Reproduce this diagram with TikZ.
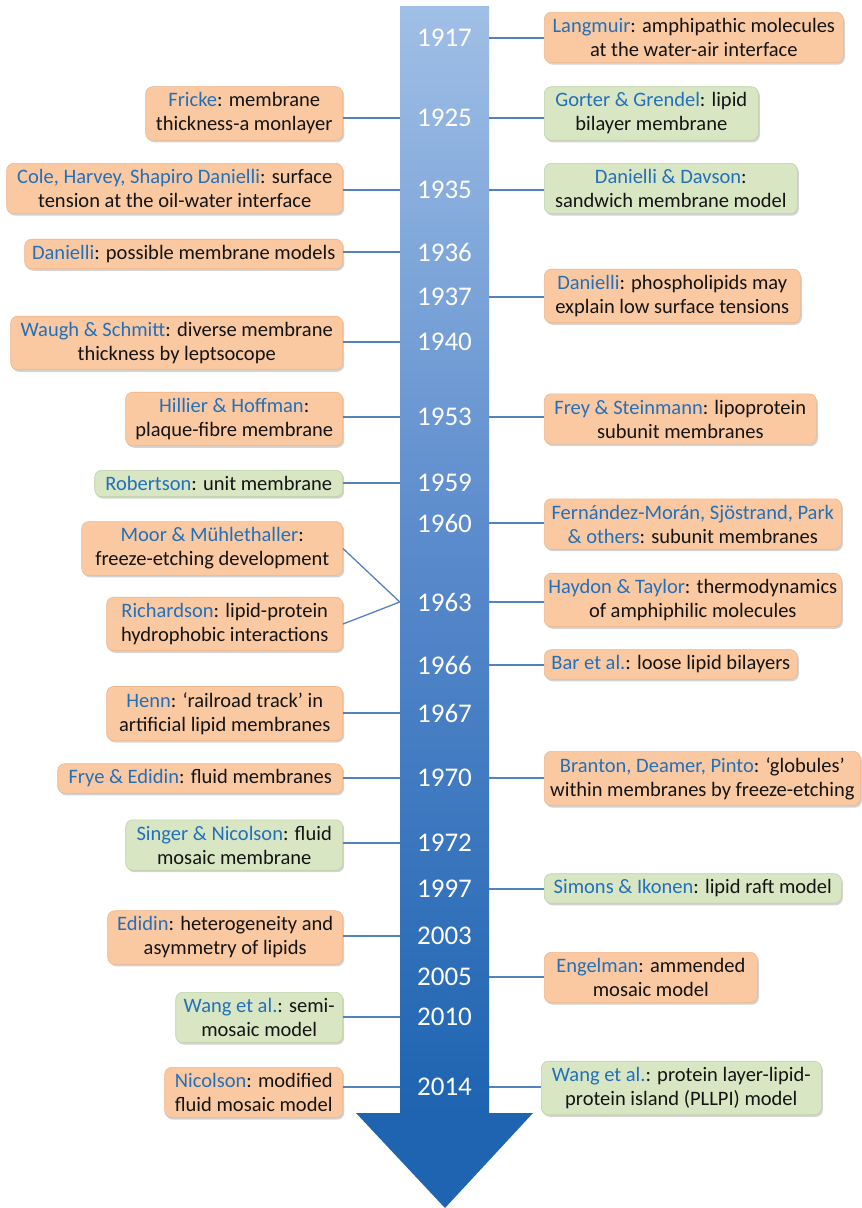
\documentclass[tikz,border=0pt]{standalone}
\usepackage{fontspec}
\setmainfont{Carlito}
\usepackage{tikz}
\usetikzlibrary{calc, shadows}

\definecolor{peach}{RGB}{250,201,162}
\definecolor{peachline}{RGB}{238,182,140}
\definecolor{sage}{RGB}{216,230,195}
\definecolor{sageline}{RGB}{192,211,168}
\definecolor{nameblue}{RGB}{35,112,186}
\definecolor{linkblue}{RGB}{84,130,190}
\definecolor{shafttop}{RGB}{160,191,230}
\definecolor{shaftmid}{RGB}{88,137,203}
\definecolor{shaftbot}{RGB}{30,100,177}

\newcommand{\nm}[1]{\textcolor{nameblue}{#1}}

\begin{document}
\begin{tikzpicture}[x=1pt, y=-1pt,
    box/.style={rectangle, rounded corners=7pt, align=center, inner xsep=3pt, inner ysep=6pt,
        font=\fontsize{20.5}{24}\selectfont, text=black!92, line width=0.6pt,
        drop shadow={shadow xshift=1.5pt, shadow yshift=-2pt, opacity=0.35}},
    obox/.style={box, draw=peachline, fill=peach, minimum width=#1},
    gbox/.style={box, draw=sageline, fill=sage, minimum width=#1},
    yr/.style={text=white, font=\fontsize{27}{29}\selectfont, minimum width=89pt, inner sep=0pt},
    link/.style={draw=linkblue, line width=1.3pt}]

    \useasboundingbox (0,0) rectangle (862,1208);

    % arrow
    \fill[top color=shafttop, bottom color=shaftbot, middle color=shaftmid] (400,6) rectangle (489,1114);
    \fill[shaftbot] (356,1113) -- (533,1113) -- (445,1208) -- cycle;

    % years
    \node[yr] (y1917) at (444.5,38) {1917};
    \node[yr] (y1925) at (444.5,118) {1925};
    \node[yr] (y1935) at (444.5,190) {1935};
    \node[yr] (y1936) at (444.5,252) {1936};
    \node[yr] (y1937) at (444.5,297) {1937};
    \node[yr] (y1940) at (444.5,342) {1940};
    \node[yr] (y1953) at (444.5,417) {1953};
    \node[yr] (y1959) at (444.5,483) {1959};
    \node[yr] (y1960) at (444.5,523) {1960};
    \node[yr] (y1963) at (444.5,602) {1963};
    \node[yr] (y1966) at (444.5,665) {1966};
    \node[yr] (y1967) at (444.5,713) {1967};
    \node[yr] (y1970) at (444.5,778) {1970};
    \node[yr] (y1972) at (444.5,843) {1972};
    \node[yr] (y1997) at (444.5,889) {1997};
    \node[yr] (y2003) at (444.5,936) {2003};
    \node[yr] (y2005) at (444.5,977) {2005};
    \node[yr] (y2010) at (444.5,1017) {2010};
    \node[yr] (y2014) at (444.5,1087) {2014};

    % left side
    \node[obox=197pt, anchor=east] (fricke) at (343,113.5) {\nm{Fricke}: membrane\\thickness-a monlayer};
    \node[obox=336pt, anchor=east] (cole) at (343,188.5) {\nm{Cole, Harvey, Shapiro Danielli}: surface\\tension at the oil-water interface};
    \node[obox=318pt, anchor=east] (possible) at (343,254) {\nm{Danielli}: possible membrane models};
    \node[obox=332pt, anchor=east] (waugh) at (343,343) {\nm{Waugh \& Schmitt}: diverse membrane\\thickness by leptsocope};
    \node[obox=217pt, anchor=east] (hillier) at (343,419) {\nm{Hillier \& Hoffman}:\\plaque-fibre membrane};
    \node[gbox=248pt, anchor=east] (robertson) at (343,483.5) {\nm{Robertson}: unit membrane};
    \node[obox=261pt, anchor=east] (moor) at (343,548.5) {\nm{Moor \& Mühlethaller}:\\freeze-etching development};
    \node[obox=236pt, anchor=east] (richardson) at (343,624) {\nm{Richardson}: lipid-protein\\hydrophobic interactions};
    \node[obox=236pt, anchor=east] (henn) at (343,713.5) {\nm{Henn}: `railroad track' in\\artificial lipid membranes};
    \node[obox=285pt, anchor=east] (frye) at (343,778.5) {\nm{Frye \& Edidin}: fluid membranes};
    \node[gbox=217pt, anchor=east] (singer) at (343,845) {\nm{Singer \& Nicolson}: fluid\\mosaic membrane};
    \node[obox=235pt, anchor=east] (edidin) at (343,937.5) {\nm{Edidin}: heterogeneity and\\asymmetry of lipids};
    \node[gbox=167pt, anchor=east] (wangsemi) at (343,1017.5) {\nm{Wang et al.}: semi-\\mosaic model};
    \node[obox=178pt, anchor=east] (nicolson) at (343,1092.5) {\nm{Nicolson}: modified\\fluid mosaic model};

    % right side
    \node[obox=299pt, anchor=west] (langmuir) at (544,37.5) {\nm{Langmuir}: amphipathic molecules\\at the water-air interface};
    \node[gbox=214pt, anchor=west] (gorter) at (544,113.5) {\nm{Gorter \& Grendel}: lipid\\bilayer membrane};
    \node[gbox=253pt, anchor=west] (davson) at (544,188.5) {\nm{Danielli \& Davson}:\\sandwich membrane model};
    \node[obox=256pt, anchor=west] (phospho) at (544,296) {\nm{Danielli}: phospholipids may\\explain low surface tensions};
    \node[obox=272pt, anchor=west] (frey) at (544,419) {\nm{Frey \& Steinmann}: lipoprotein\\subunit membranes};
    \node[obox=297pt, anchor=west] (fernandez) at (544,524) {\nm{Fernández-Morán, Sjöstrand, Park}\\\nm{\& others}: subunit membranes};
    \node[obox=297pt, anchor=west] (haydon) at (544,600) {\nm{Haydon \& Taylor}: thermodynamics\\of amphiphilic molecules};
    \node[obox=253pt, anchor=west] (bar) at (544,664.5) {\nm{Bar et al.}: loose lipid bilayers};
    \node[obox=316pt, anchor=west] (branton) at (544,778.5) {\nm{Branton, Deamer, Pinto}: `globules'\\within membranes by freeze-etching};
    \node[gbox=297pt, anchor=west] (simons) at (544,888.5) {\nm{Simons \& Ikonen}: lipid raft model};
    \node[obox=213pt, anchor=west] (engelman) at (544,977.5) {\nm{Engelman}: ammended\\mosaic model};
    \node[gbox=280pt, anchor=west] (wangpll) at (541,1088) {\nm{Wang et al.}: protein layer-lipid-\\protein island (PLLPI) model};

    % connectors
    \draw[link] (fricke.east |- y1925.west) -- (y1925.west);
    \draw[link] (cole.east |- y1935.west) -- (y1935.west);
    \draw[link] (possible.east |- y1936.west) -- (y1936.west);
    \draw[link] (waugh.east |- y1940.west) -- (y1940.west);
    \draw[link] (hillier.east |- y1953.west) -- (y1953.west);
    \draw[link] (robertson.east |- y1959.west) -- (y1959.west);
    \draw[link] (moor.east) -- (y1963.west) -- (richardson.east);
    \draw[link] (henn.east |- y1967.west) -- (y1967.west);
    \draw[link] (frye.east |- y1970.west) -- (y1970.west);
    \draw[link] (singer.east |- y1972.west) -- (y1972.west);
    \draw[link] (edidin.east |- y2003.west) -- (y2003.west);
    \draw[link] (wangsemi.east |- y2010.west) -- (y2010.west);
    \draw[link] (nicolson.east |- y2014.west) -- (y2014.west);

    \draw[link] (y1917.east) -- (langmuir.west |- y1917.east);
    \draw[link] (y1925.east) -- (gorter.west |- y1925.east);
    \draw[link] (y1935.east) -- (davson.west |- y1935.east);
    \draw[link] (y1937.east) -- (phospho.west |- y1937.east);
    \draw[link] (y1953.east) -- (frey.west |- y1953.east);
    \draw[link] (y1960.east) -- (fernandez.west |- y1960.east);
    \draw[link] (y1963.east) -- (haydon.west |- y1963.east);
    \draw[link] (y1966.east) -- (bar.west |- y1966.east);
    \draw[link] (y1970.east) -- (branton.west |- y1970.east);
    \draw[link] (y1997.east) -- (simons.west |- y1997.east);
    \draw[link] (y2005.east) -- (engelman.west |- y2005.east);
    \draw[link] (y2014.east) -- (wangpll.west |- y2014.east);
\end{tikzpicture}
\end{document}
